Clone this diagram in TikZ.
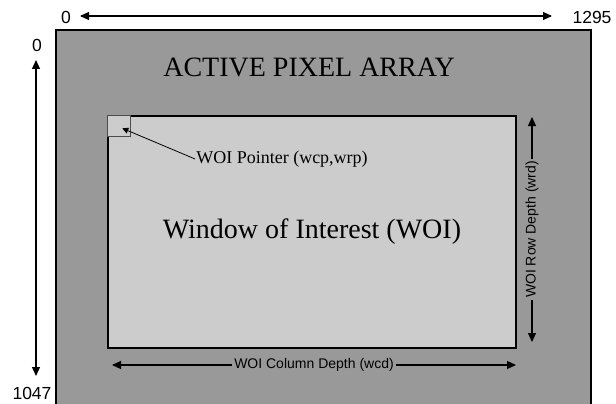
\documentclass[tikz,border=0pt]{standalone}
\usepackage{fontspec}
\setmainfont{Liberation Serif}
\setsansfont{Liberation Sans}
\usetikzlibrary{arrows,arrows.meta}
\definecolor{arraygray}{HTML}{999999}
\definecolor{woigray}{HTML}{CCCCCC}

\begin{document}
\begin{tikzpicture}[x=1pt,y=-1pt,
    dim/.style={{Triangle[length=9pt,width=8pt]}-{Triangle[length=9pt,width=8pt]},line width=1.2pt},
    dimlabel/.style={fill=arraygray,inner sep=2pt,font=\sffamily\fontsize{14}{16}\selectfont},
    num/.style={font=\sffamily\fontsize{17.5}{20}\selectfont,inner sep=0pt}]
    \useasboundingbox (0,0) rectangle (616,404);
    % pixel array
    \fill[arraygray] (56,30) rectangle (591,404);
    \draw[line width=1.5pt] (56,404) -- (56,30) -- (591,30) -- (591,404);
    \node[font=\fontsize{28}{34}\selectfont] (title) at (309,67) {ACTIVE PIXEL ARRAY};
    % window of interest
    \node[draw,fill=woigray,line width=1.2pt,minimum width=408pt,minimum height=232pt,
      font=\fontsize{28}{34}\selectfont] (woi) at (312,232) {Window of Interest (WOI)};
    \node[draw=black!70,fill=woigray,line width=0.8pt,minimum width=23pt,minimum height=21pt,
      anchor=north west,inner sep=0pt] (ptr) at (woi.north west) {};
    \node[font=\fontsize{18}{22}\selectfont,inner sep=1pt] (ptrlabel) at (282,159) {WOI Pointer (wcp,wrp)};
    \draw[-{Triangle[length=6pt,width=6pt]},line width=0.8pt] (ptrlabel.west) -- ([shift={(3,2)}]ptr.center);
    % dimensions
    \node[num] (x0) at (66,17) {0};
    \node[num] (x1295) at (592,17) {1295};
    \coordinate (xl) at (80,16);
    \coordinate (xr) at (552,16);
    \draw[dim] (xl) -- (xr);
    \node[num] (y0) at (37,45) {0};
    \node[num] (y1047) at (32,393) {1047};
    \coordinate (yt) at (36,60);
    \coordinate (yb) at (36,376);
    \draw[dim] (yt) -- (yb);
    \coordinate (wt) at (532,117);
    \coordinate (wb) at (532,342);
    \draw[dim] (wt) -- node[dimlabel,rotate=90] (wrd) {WOI Row Depth (wrd)} (wb);
    \coordinate (cl) at (112,365);
    \coordinate (cr) at (516,365);
    \draw[dim] (cl) -- node[dimlabel] (wcd) {WOI Column Depth (wcd)} (cr);
\end{tikzpicture}
\end{document}
